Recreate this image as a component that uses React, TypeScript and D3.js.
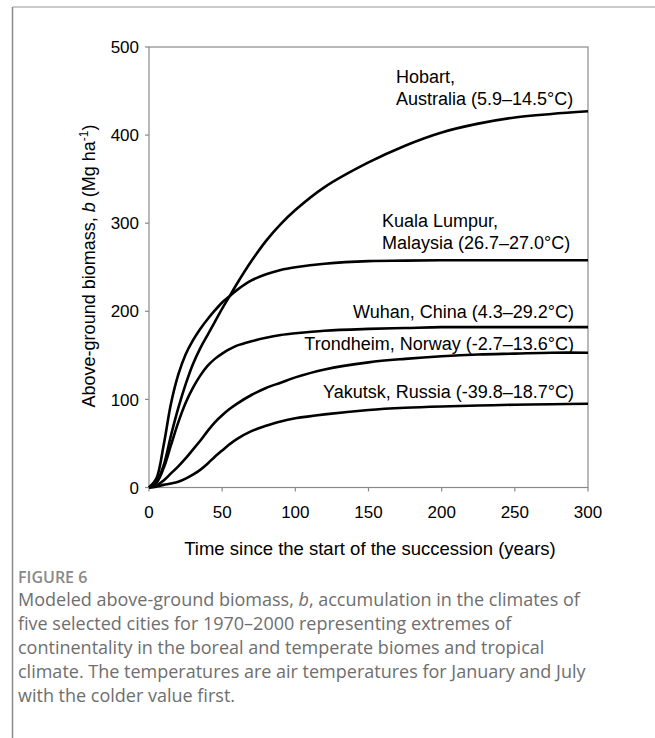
import React from "react";
import * as d3 from "d3";

const years = [0, 5, 10, 15, 20, 25, 30, 35, 40, 45, 50, 55, 60, 70, 80, 90, 100, 120, 150, 175, 200, 225, 250, 275, 300];
const hobart = [0, 6, 25, 59, 90, 117, 140, 158, 173, 188, 203, 217, 231, 257, 280, 299, 315, 341, 369, 388, 403, 413, 420, 424, 427];
const kualaLumpur = [0, 10, 48, 95, 128, 151, 167, 180, 191, 201, 210, 217, 224, 235, 242, 247, 250, 254, 257, 257.5, 258, 258, 258, 258, 258];
const wuhan = [0, 5, 22, 48, 74, 96, 113, 127, 138, 146, 152, 157, 161, 166, 170, 173, 175, 178, 180, 181, 182, 182, 182, 182, 182];
const trondheim = [0, 2, 8, 16, 24, 33, 43, 53, 64, 74, 82, 89, 95, 105, 113, 119, 125, 134, 142, 146, 149, 151, 152, 153, 153];
const yakutsk = [0, 1, 3, 4.5, 6.5, 10, 14.5, 20, 27, 35, 42, 49, 55, 64, 70, 75, 78.5, 83, 88, 90.5, 92, 93, 94, 94.5, 95];

const seriesList = [hobart, kualaLumpur, wuhan, trondheim, yakutsk];

const xTicks = [0, 50, 100, 150, 200, 250, 300];
const yTicks = [0, 100, 200, 300, 400, 500];

const captionLines = [
  ["Modeled above-ground biomass, ", "b", ", accumulation in the climates of"],
  ["five selected cities for 1970–2000 representing extremes of"],
  ["continentality in the boreal and temperate biomes and tropical"],
  ["climate. The temperatures are air temperatures for January and July"],
  ["with the colder value first."],
];

export default function App() {
  const x = d3.scaleLinear().domain([0, 300]).range([149, 588]);
  const y = d3.scaleLinear().domain([0, 500]).range([487.5, 47]);
  const line = d3
    .line<number>()
    .x((_, i) => x(years[i]))
    .y((d) => y(d))
    .curve(d3.curveCatmullRom.alpha(0.5));

  const axisColor = "#8a8a8a";
  const font = "'Liberation Sans', Arial, sans-serif";
  const capFont = "'Open Sans', 'Noto Sans', sans-serif";

  return (
    <svg
      width={655}
      height={738}
      style={{ position: "absolute", left: 0, top: 0, background: "#fff" }}
    >
      {/* frame */}
      <line x1={12.5} y1={7} x2={655} y2={7} stroke="#b8b8b8" strokeWidth={1.5} />
      <line x1={12.5} y1={7} x2={12.5} y2={738} stroke="#8c8c8c" strokeWidth={1.5} />

      {/* plot box */}
      <rect
        x={x(0)}
        y={y(500)}
        width={x(300) - x(0)}
        height={y(0) - y(500)}
        fill="none"
        stroke={axisColor}
        strokeWidth={1.2}
      />

      {/* y ticks */}
      {yTicks.map((t) => (
        <g key={"y" + t}>
          <line x1={x(0) - 4} x2={x(0)} y1={y(t)} y2={y(t)} stroke={axisColor} strokeWidth={1.2} />
          <text
            x={x(0) - 10}
            y={y(t)}
            dy="0.36em"
            textAnchor="end"
            fontFamily={font}
            fontSize={17}
            fill="#000"
          >
            {t}
          </text>
        </g>
      ))}

      {/* x ticks */}
      {xTicks.map((t) => (
        <g key={"x" + t}>
          <line x1={x(t)} x2={x(t)} y1={y(0)} y2={y(0) + 4} stroke={axisColor} strokeWidth={1.2} />
          <text
            x={x(t)}
            y={518}
            textAnchor="middle"
            fontFamily={font}
            fontSize={17}
            fill="#000"
          >
            {t}
          </text>
        </g>
      ))}

      {/* axis titles */}
      <text
        x={370}
        y={555}
        textAnchor="middle"
        fontFamily={font}
        fontSize={18.5}
        fill="#000"
      >
        Time since the start of the succession (years)
      </text>
      <text
        transform={`translate(95, 266) rotate(-90)`}
        textAnchor="middle"
        fontFamily={font}
        fontSize={18}
        fill="#000"
      >
        Above-ground biomass,{" "}
        <tspan fontStyle="italic">b</tspan> (Mg ha
        <tspan dy={-7} fontSize={12}>-1</tspan>
        <tspan dy={7}>)</tspan>
      </text>

      {/* curves */}
      {seriesList.map((s, i) => (
        <path key={i} d={line(s) || ""} fill="none" stroke="#000" strokeWidth={2.6} />
      ))}

      {/* curve labels */}
      <g fontFamily={font} fontSize={18} fill="#000">
        <text x={396} y={83}>Hobart,</text>
        <text x={396} y={105}>Australia (5.9–14.5°C)</text>
        <text x={382} y={227}>Kuala Lumpur,</text>
        <text x={382} y={249}>Malaysia (26.7–27.0°C)</text>
        <text x={574} y={318} textAnchor="end">Wuhan, China (4.3–29.2°C)</text>
        <text x={574} y={350} textAnchor="end">Trondheim, Norway (-2.7–13.6°C)</text>
        <text x={574} y={398} textAnchor="end">Yakutsk, Russia (-39.8–18.7°C)</text>
      </g>

      {/* caption */}
      <text x={18} y={583} fontFamily={capFont} fontSize={16} fontWeight={600} fill="#888">
        FIGURE 6
      </text>
      {captionLines.map((parts, i) => (
        <text
          key={i}
          x={18}
          y={606 + i * 24}
          fontFamily={capFont}
          fontSize={18}
          fontWeight={400}
          fill="#6e6e6e"
        >
          {parts.map((p, j) =>
            p === "b" ? (
              <tspan key={j} fontStyle="italic">{p}</tspan>
            ) : (
              <tspan key={j}>{p}</tspan>
            )
          )}
        </text>
      ))}
    </svg>
  );
}
